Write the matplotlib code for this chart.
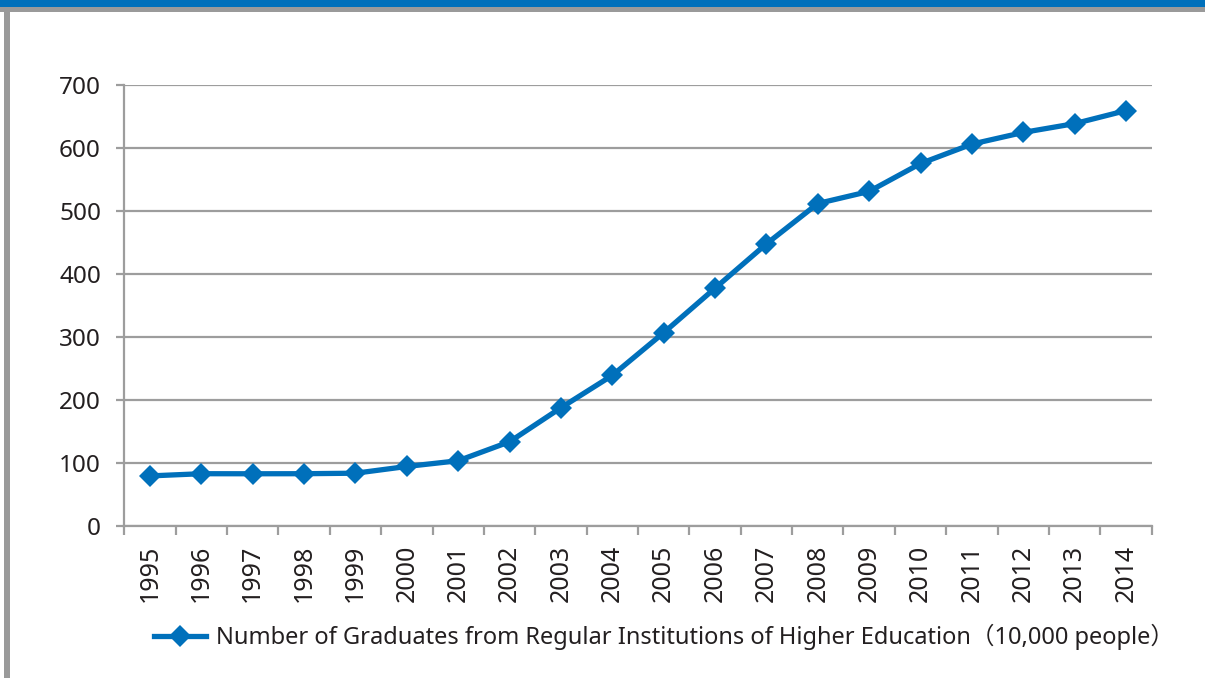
import matplotlib
matplotlib.use("Agg")
import matplotlib.pyplot as plt
from matplotlib.patches import Rectangle
from matplotlib.ticker import FixedLocator, NullFormatter

years = ["1995", "1996", "1997", "1998", "1999", "2000", "2001", "2002", "2003", "2004",
         "2005", "2006", "2007", "2008", "2009", "2010", "2011", "2012", "2013", "2014"]
graduates = [79.5, 83.0, 82.9, 83.0, 83.8, 94.5, 103.6, 133.7, 187.7, 239.1,
             306.8, 377.5, 447.8, 511.9, 531.1, 575.4, 606.2, 624.7, 638.7, 659.4]
y_ticks = [0, 100, 200, 300, 400, 500, 600, 700]
series_label = "Number of Graduates from Regular Institutions of Higher Education（10,000 people）"

W, H = 1205, 678
BLUE = "#0070bb"
GRID = "#9d9d9d"
TEXT = "#231f20"

plt.rcParams['font.family'] = ['Noto Sans', 'Noto Sans CJK SC', 'DejaVu Sans']

fig = plt.figure(figsize=(W / 100, H / 100), dpi=100)

# frame decorations
fig.patches.append(Rectangle((0, 1 - 7 / H), 1, 7 / H, transform=fig.transFigure,
                             facecolor=BLUE, edgecolor="none", zorder=0))
fig.patches.append(Rectangle((0, 1 - 12 / H), 1, 5 / H, transform=fig.transFigure,
                             facecolor="#9a9a9a", edgecolor="none", zorder=0))
fig.patches.append(Rectangle((4 / W, 0), 6 / W, 1 - 7 / H, transform=fig.transFigure,
                             facecolor="#9a9a9a", edgecolor="none", zorder=0))

left, right = 124.3 / W, 1151.7 / W
bottom, top = 1 - 526 / H, 1 - 85 / H
ax = fig.add_axes([left, bottom, right - left, top - bottom])

x = list(range(len(years)))
ax.plot(x, graduates, color=BLUE, linewidth=3.8, marker="D", markersize=11,
        markeredgewidth=0, label=series_label, zorder=3, clip_on=False)

ax.set_xlim(-0.5, len(years) - 0.5)
ax.set_ylim(0, 700)
ax.set_yticks(y_ticks)
ax.set_yticklabels([str(v) for v in y_ticks])
ax.set_xticks(x)
ax.set_xticklabels(years, rotation=90)
ax.xaxis.set_minor_locator(FixedLocator([i - 0.5 for i in range(len(years) + 1)]))
ax.xaxis.set_minor_formatter(NullFormatter())

ax.yaxis.grid(True, color=GRID, linewidth=1.6)
ax.set_axisbelow(True)
for s in ["top", "right"]:
    ax.spines[s].set_visible(False)
for s in ["left", "bottom"]:
    ax.spines[s].set_color(GRID)
    ax.spines[s].set_linewidth(1.6)

ax.tick_params(axis="y", length=5.8, width=1.6, color=GRID, pad=11, labelsize=17.5, labelcolor=TEXT)
ax.tick_params(axis="x", which="major", length=0, pad=13.5, labelsize=18, labelcolor=TEXT)
ax.tick_params(axis="x", which="minor", length=6.5, width=1.6, color=GRID)

fig.legend(loc="center", bbox_to_anchor=(0.551, 1 - 637 / H), frameon=False,
           fontsize=17, labelcolor=TEXT, handlelength=2.2, handletextpad=0.45)

fig.savefig("out.png", dpi=100)
